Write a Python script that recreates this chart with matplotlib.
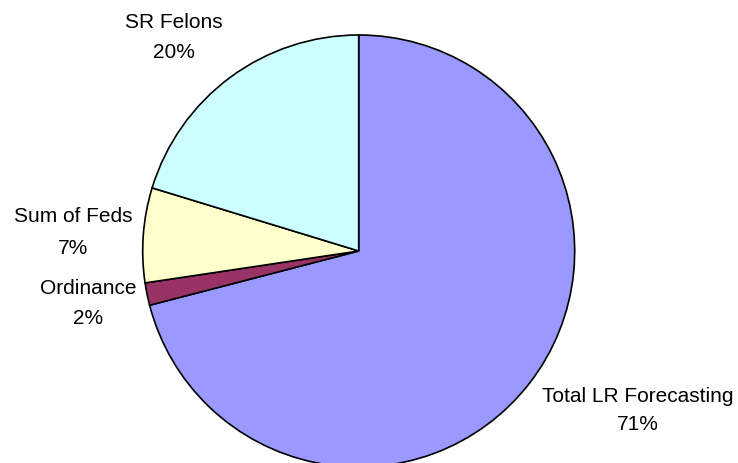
import matplotlib
matplotlib.use("Agg")
import matplotlib.pyplot as plt

# Share of workload by source
categories = ["Total LR Forecasting", "Ordinance", "Sum of Feds", "SR Felons"]
values = [70.96, 1.68, 7.08, 20.28]
colors = ["#9999FF", "#993366", "#FFFFCC", "#CCFFFF"]

W, H = 738, 463
fig = plt.figure(figsize=(W / 100, H / 100), dpi=100)
ax = fig.add_axes([0, 0, 1, 1])

ax.pie(values, colors=colors, startangle=90, counterclock=False,
       center=(358.7, H - 251), radius=216, frame=True,
       wedgeprops=dict(edgecolor="black", linewidth=1.2))
ax.set_xlim(0, W)
ax.set_ylim(0, H)
ax.set_aspect("equal")
ax.axis("off")

# label anchor points (x, name line y, percent line y), in pixels from top-left
label_pos = {
    "Total LR Forecasting": (638, 396, 425),
    "Ordinance": (88, 288, 319),
    "Sum of Feds": (73, 216, 248),
    "SR Felons": (174, 22, 52),
}
total = sum(values)
font = dict(family=["Liberation Sans", "DejaVu Sans"], fontsize=15, color="black",
            ha="center", va="center")
for name, v in zip(categories, values):
    x, y1, y2 = label_pos[name]
    ax.text(x, H - y1, name, **font)
    ax.text(x, H - y2, f"{v / total * 100:.0f}%", **font)

fig.savefig("out.png", dpi=100)
